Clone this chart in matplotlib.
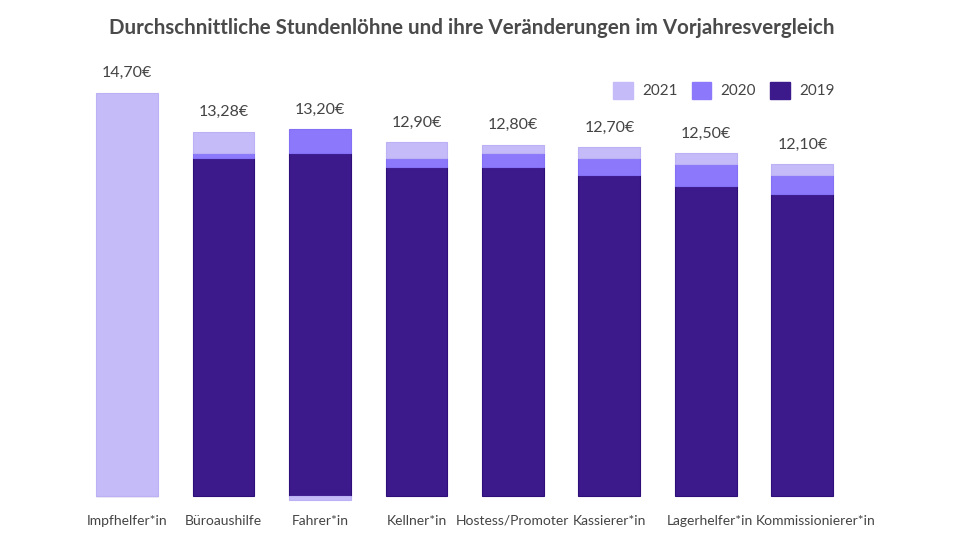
import matplotlib.pyplot as plt
import numpy as np
from matplotlib.patches import Patch
from matplotlib.transforms import ScaledTranslation

plt.rcParams['font.family'] = ['Lato', 'DejaVu Sans']

jobs = ["Impfhelfer*in", "Büroaushilfe", "Fahrer*in", "Kellner*in",
        "Hostess/Promoter", "Kassierer*in", "Lagerhelfer*in", "Kommissionierer*in"]
lohn_2019 = [0.00, 12.30, 12.50, 12.00, 12.00, 11.70, 11.30, 11.00]
lohn_2020 = [0.00, 12.50, 13.37, 12.30, 12.50, 12.30, 12.10, 11.70]
lohn_2021 = [14.70, 13.28, 13.20, 12.90, 12.80, 12.70, 12.50, 12.10]
labels = ["14,70€", "13,28€", "13,20€", "12,90€", "12,80€", "12,70€", "12,50€", "12,10€"]

c21 = "#c5bbf8"
c20 = "#8c78fa"
c19 = "#3c1a8c"

fig = plt.figure(figsize=(9.6, 5.4), dpi=100)
ax = fig.add_axes([0.082, 0.0567, 0.804, 0.8377])

x = np.arange(len(jobs))
w = 0.64
a19 = np.array(lohn_2019)
a20 = np.array(lohn_2020)
a21 = np.array(lohn_2021)
d20 = a20 - a19
d21 = a21 - a20

ax.bar(x, a19, w, color=c19, edgecolor="#2e0f7a", linewidth=0.8)
ax.bar(x, d20, w, bottom=a19, color=c20, edgecolor="#8370f5", linewidth=0.8)
# negative changes go below the baseline, like in the original stacked chart
bot21 = np.where(d21 >= 0, a20, 0)
ax.bar(x, d21, w, bottom=bot21, color=c21, edgecolor="#bcb1f5", linewidth=0.8)

tops = np.maximum(a20, a21)
for i in range(len(jobs)):
    ax.annotate(labels[i], (x[i], tops[i]), xytext=(0, 14), textcoords="offset points",
                ha="center", va="center", fontsize=11.5, color="#444444")

ax.set_xlim(-0.5, len(jobs) - 0.5)
ax.set_ylim(-0.5, 16)
ax.set_yticks([])
ax.set_xticks(x)
ax.set_xticklabels(jobs, fontsize=10, color="#444444")
ax.tick_params(axis="x", length=0, pad=4)
for s in ax.spines.values():
    s.set_visible(False)

# the last two labels sit a little to the right in the original
shifts = [0, 0, 0, 0, 0, 0, 0.04, 0.13]
for lab, dx in zip(ax.get_xticklabels(), shifts):
    lab.set_transform(lab.get_transform() + ScaledTranslation(dx, 0, fig.dpi_scale_trans))

fig.text(0.491, 0.948, "Durchschnittliche Stundenlöhne und ihre Veränderungen im Vorjahresvergleich",
         ha="center", va="center", fontsize=14.8, fontweight="bold", color="#4a4a4a")

handles = [Patch(color=c21), Patch(color=c20), Patch(color=c19)]
fig.legend(handles, ["2021", "2020", "2019"], ncol=3, frameon=False,
           loc="center", bbox_to_anchor=(0.754, 0.833), fontsize=11,
           handlelength=1.3, handleheight=1.3, columnspacing=0.9, handletextpad=0.6,
           labelcolor="#444444")

fig.savefig("out.png", dpi=100)
